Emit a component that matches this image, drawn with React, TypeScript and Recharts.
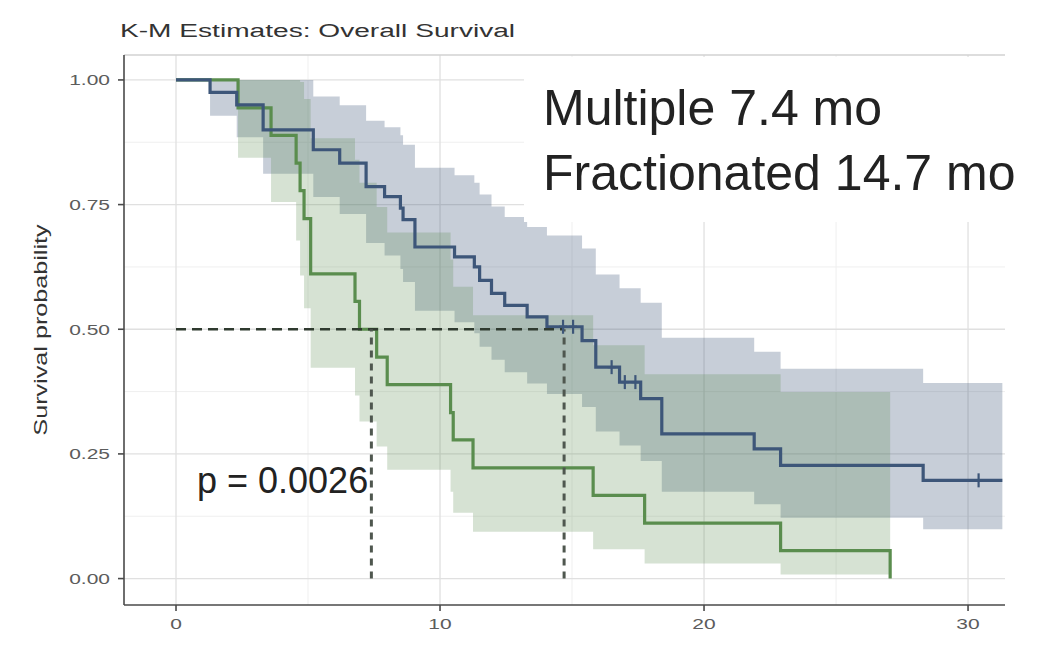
import React from 'react';
import {
  ComposedChart,
  Area,
  Line,
  Scatter,
  XAxis,
  YAxis,
  CartesianGrid,
  ReferenceLine,
} from 'recharts';

// Multiple (green) arm: step times, survival and confidence band
const multTime = [0, 2.35, 3.6, 4.55, 4.7, 4.85, 5.1, 6.78, 6.95, 7.6, 8.0, 10.4, 10.5, 11.25, 15.8, 17.75, 22.9, 27.05];
const multSurv = [1, 0.944, 0.889, 0.833, 0.778, 0.722, 0.611, 0.556, 0.5, 0.444, 0.389, 0.333, 0.278, 0.222, 0.167, 0.111, 0.056, 0];
const multLower = [1, 0.844, 0.755, 0.678, 0.608, 0.542, 0.423, 0.367, 0.315, 0.265, 0.218, 0.174, 0.132, 0.094, 0.059, 0.03, 0.008, 0.008];
const multUpper = [1, 1, 1, 1, 0.996, 0.962, 0.883, 0.84, 0.794, 0.745, 0.694, 0.64, 0.585, 0.528, 0.468, 0.41, 0.374, 0.374];

// Fractionated (blue) arm
const fracTime = [0, 1.29, 2.3, 3.3, 5.2, 6.2, 7.2, 7.9, 8.5, 8.6, 9.05, 10.55, 11.3, 11.5, 11.95, 12.45, 13.3, 14.05, 15.38, 15.9, 16.8, 17.6, 18.4, 21.9, 22.9, 28.3, 31.3];
const fracSurv = [1, 0.975, 0.95, 0.9, 0.86, 0.833, 0.786, 0.766, 0.743, 0.72, 0.665, 0.645, 0.625, 0.598, 0.572, 0.548, 0.525, 0.505, 0.477, 0.424, 0.394, 0.361, 0.29, 0.26, 0.227, 0.197, 0.197];
const fracLower = [1, 0.928, 0.885, 0.812, 0.765, 0.731, 0.673, 0.648, 0.621, 0.595, 0.537, 0.514, 0.492, 0.465, 0.439, 0.414, 0.391, 0.37, 0.344, 0.295, 0.267, 0.236, 0.174, 0.149, 0.122, 0.099, 0.099];
const fracUpper = [1, 1, 1, 1, 0.967, 0.949, 0.918, 0.905, 0.889, 0.87, 0.824, 0.809, 0.794, 0.77, 0.746, 0.725, 0.705, 0.688, 0.662, 0.61, 0.582, 0.553, 0.483, 0.455, 0.421, 0.392, 0.392];

// censored observations (Fractionated arm)
const censorTime = [14.66, 15.04, 16.5, 17.0, 17.4, 30.4];
const censorSurv = [0.505, 0.505, 0.424, 0.394, 0.394, 0.197];

const medians = [7.4, 14.7];
const xTicks = [0, 10, 20, 30];
const xMinor = [5, 15, 25];
const yTicks = [0, 0.25, 0.5, 0.75, 1];
const yMinor = [0.125, 0.375, 0.625, 0.875];

const BLUE = '#3d5679';
const GREEN = '#5a8d4e';
const SX = 1.4; // the plot's own text is drawn horizontally stretched

const stepAt = (ts: number[], vs: number[], t: number) => {
  let i = 0;
  while (i + 1 < ts.length && ts[i + 1] <= t) i++;
  return vs[i];
};

const times = Array.from(new Set([...multTime, ...fracTime])).sort((a, b) => a - b);
const multEnd = multTime[multTime.length - 1];
const fracEnd = fracTime[fracTime.length - 1];

const table = times.map(t => ({
  t,
  mult: t <= multEnd ? stepAt(multTime, multSurv, t) : undefined,
  multBand: t <= multEnd ? [stepAt(multTime, multLower, t), stepAt(multTime, multUpper, t)] : undefined,
  frac: t <= fracEnd ? stepAt(fracTime, fracSurv, t) : undefined,
  fracBand: t <= fracEnd ? [stepAt(fracTime, fracLower, t), stepAt(fracTime, fracUpper, t)] : undefined,
}));

const censorData = censorTime.map((t, i) => ({ t, s: censorSurv[i] }));

const YTick = (props: any) => {
  const { x, y, payload } = props;
  return (
    <g transform={`translate(${x},${y})`}>
      <text transform={`scale(${SX},1)`} textAnchor="end" dy="0.36em" fontSize={15} fill="#5c5c5c">
        {Number(payload.value).toFixed(2)}
      </text>
    </g>
  );
};

const XTick = (props: any) => {
  const { x, y, payload } = props;
  return (
    <g transform={`translate(${x},${y})`}>
      <text transform={`scale(${SX},1)`} textAnchor="middle" dy="0.72em" fontSize={15} fill="#5c5c5c">
        {payload.value}
      </text>
    </g>
  );
};

const CensorMark = (props: any) => {
  const { cx, cy } = props;
  return (
    <g stroke={BLUE} strokeWidth={2.2}>
      <line x1={cx} y1={cy - 7} x2={cx} y2={cy + 7} />
      <line x1={cx - 4} y1={cy} x2={cx + 4} y2={cy} />
    </g>
  );
};

export default function App() {
  return (
    <div style={{ position: 'relative', width: 1032, height: 654, fontFamily: '"Liberation Sans", Arial, sans-serif' }}>
      <ComposedChart width={1032} height={654} data={table} margin={{ top: 47, right: 35, bottom: 0, left: 0 }}>
        <CartesianGrid horizontalValues={yMinor} verticalValues={xMinor} stroke="#efefef" strokeWidth={1} />
        <CartesianGrid horizontalValues={yTicks} verticalValues={xTicks} stroke="#e0e0e0" strokeWidth={1.3} />
        <XAxis
          type="number"
          dataKey="t"
          domain={[-1.97, 31.4]}
          allowDataOverflow
          ticks={xTicks}
          height={57}
          tick={<XTick />}
          tickSize={6}
          tickMargin={7}
          axisLine={{ stroke: '#4a4a4a', strokeWidth: 1.6 }}
          tickLine={{ stroke: '#4a4a4a', strokeWidth: 1.6 }}
        />
        <YAxis
          type="number"
          domain={[-0.053, 1.05]}
          allowDataOverflow
          ticks={yTicks}
          width={116}
          tick={<YTick />}
          tickSize={6}
          tickMargin={8}
          axisLine={{ stroke: '#4a4a4a', strokeWidth: 1.6 }}
          tickLine={{ stroke: '#4a4a4a', strokeWidth: 1.6 }}
        />
        <ReferenceLine y={1.05} stroke="#d2d2d2" strokeWidth={1.5} />
        <Area dataKey="fracBand" type="stepAfter" stroke="none" fill={BLUE} fillOpacity={0.29} isAnimationActive={false} />
        <Area dataKey="multBand" type="stepAfter" stroke="none" fill={GREEN} fillOpacity={0.25} isAnimationActive={false} />
        <Line dataKey="mult" type="stepAfter" stroke={GREEN} strokeWidth={3.2} dot={false} activeDot={false} isAnimationActive={false} />
        <Line dataKey="frac" type="stepAfter" stroke={BLUE} strokeWidth={3.2} dot={false} activeDot={false} isAnimationActive={false} />
        <Scatter data={censorData} dataKey="s" shape={<CensorMark />} isAnimationActive={false} />
        <ReferenceLine
          segment={[{ x: 0, y: 0.5 }, { x: medians[1], y: 0.5 }]}
          stroke="#2f3a2f"
          strokeWidth={2.6}
          strokeDasharray="10 6"
          ifOverflow="visible"
        />
        {medians.map(m => (
          <ReferenceLine
            key={m}
            segment={[{ x: m, y: 0 }, { x: m, y: 0.5 }]}
            stroke="#4f574f"
            strokeWidth={3}
            strokeDasharray="7 6"
            ifOverflow="visible"
          />
        ))}
      </ComposedChart>

      {/* annotations drawn on top of the plot */}
      <svg width={1032} height={654} style={{ position: 'absolute', left: 0, top: 0, pointerEvents: 'none' }}>
        <g transform="translate(112,29) scale(1.48,1)">
          <text x={0} y={0} fontSize={19} fill="#333">K-M Estimates: Overall Survival</text>
        </g>
        <g transform={`translate(39,322) rotate(-90) scale(${SX},1)`}>
          <text x={0} y={0} textAnchor="middle" fontSize={18} fill="#333">Survival probability</text>
        </g>
        <rect x={516} y={49} width={481} height={165} fill="#fff" />
        <text x={535} y={117} fontSize={50} fill="#222">Multiple 7.4 mo</text>
        <text x={535} y={182} fontSize={50} fill="#222">Fractionated 14.7 mo</text>
        <text x={189} y={485} fontSize={36} fill="#222">p = 0.0026</text>
      </svg>
    </div>
  );
}
